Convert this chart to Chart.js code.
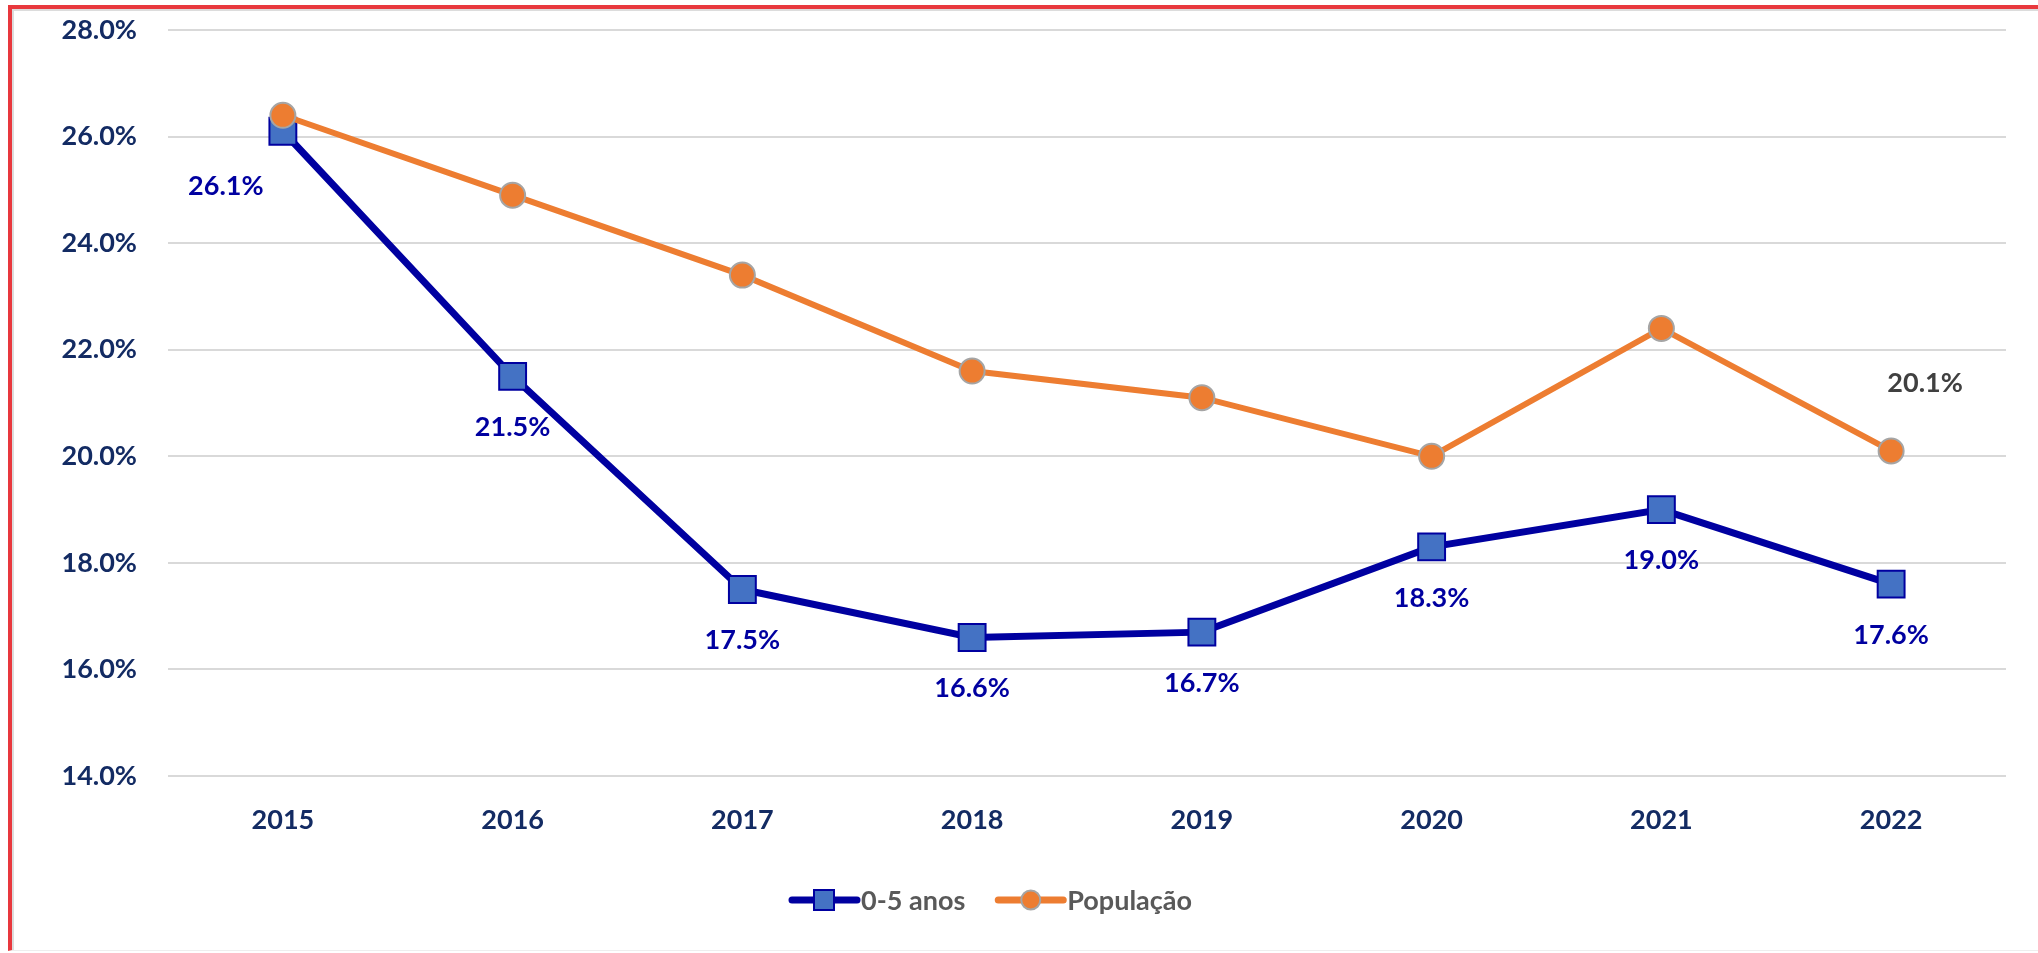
<!DOCTYPE html>
<html>
<head>
<meta charset="utf-8">
<script src="https://cdn.jsdelivr.net/npm/chart.js@4"></script>
<style>
  html, body { margin: 0; padding: 0; background: #fff; }
  #wrap { position: relative; width: 2038px; height: 953px; overflow: hidden; }
  #frame {
    position: absolute; left: 8px; top: 5px; right: -10px; bottom: 2px;
    border-left: 4px solid #E8383D; border-top: 4px solid #E8383D;
    border-bottom: 1px solid #eeeeee;
  }
  #frame::after {
    content: ""; position: absolute; left: 0; top: 0; right: 0; bottom: 0;
    border-left: 2px solid #dcdcdc; border-top: 2px solid #dcdcdc;
  }
  canvas { position: absolute; left: 0; top: 0; }
</style>
</head>
<body>
<div id="wrap">
  <div id="frame"></div>
  <canvas id="lineChart" width="2038" height="953"></canvas>
</div>
<script>
// data
var years = ["2015", "2016", "2017", "2018", "2019", "2020", "2021", "2022"];
var kids = [26.1, 21.5, 17.5, 16.6, 16.7, 18.3, 19.0, 17.6];      // 0-5 anos
var population = [26.4, 24.9, 23.4, 21.6, 21.1, 20.0, 22.4, 20.1];  // População
var seriesNames = ["0-5 anos", "População"];

var FONT = "Lato, 'Open Sans', sans-serif";

// value labels next to the points
var valueLabels = {
  id: 'valueLabels',
  afterDatasetsDraw: function(chart) {
    var ctx = chart.ctx;
    ctx.save();
    ctx.font = 'bold 27px ' + FONT;
    ctx.textAlign = 'center';
    ctx.textBaseline = 'middle';
    var m0 = chart.getDatasetMeta(0);
    ctx.fillStyle = '#0000A0';
    m0.data.forEach(function(pt, i) {
      var dx = i === 0 ? -57 : 0;
      var dy = i === 0 ? 55 : 51;
      ctx.fillText(kids[i].toFixed(1) + '%', pt.x + dx, pt.y + dy);
    });
    // only the last point of the population series is labelled
    var m1 = chart.getDatasetMeta(1);
    var n = m1.data.length - 1;
    var last = m1.data[n];
    ctx.fillStyle = '#404040';
    ctx.fillText(population[n].toFixed(1) + '%', last.x + 34, last.y - 68);
    ctx.restore();
  }
};

// legend drawn as line + marker, like the office chart
var lineLegend = {
  id: 'lineLegend',
  afterDraw: function(chart) {
    var ctx = chart.ctx;
    var y = 900;
    var x = 792;
    ctx.save();
    ctx.font = 'bold 27px ' + FONT;
    ctx.textBaseline = 'middle';
    ctx.textAlign = 'left';
    chart.data.datasets.forEach(function(ds, i) {
      ctx.strokeStyle = ds.borderColor;
      ctx.lineWidth = 7;
      ctx.lineCap = 'round';
      ctx.beginPath();
      ctx.moveTo(x, y);
      ctx.lineTo(x + 65, y);
      ctx.stroke();
      ctx.fillStyle = ds.pointBackgroundColor;
      ctx.strokeStyle = ds.pointBorderColor;
      ctx.lineWidth = 2;
      if (ds.pointStyle === 'rect') {
        ctx.fillRect(x + 22, y - 10, 20, 20);
        ctx.strokeRect(x + 22, y - 10, 20, 20);
      } else {
        ctx.beginPath();
        ctx.arc(x + 32.5, y, 9.5, 0, Math.PI * 2);
        ctx.fill();
        ctx.stroke();
      }
      ctx.fillStyle = '#595959';
      ctx.fillText(ds.label, x + 69, y + 1);
      x += 69 + ctx.measureText(ds.label).width + 33;
    });
    ctx.restore();
  }
};

var ctxL = document.getElementById("lineChart").getContext('2d');
var myLineChart = new Chart(ctxL, {
  type: 'line',
  data: {
    labels: years,
    datasets: [{
      label: seriesNames[0],
      data: kids,
      borderColor: '#0000A0',
      borderWidth: 7,
      pointStyle: 'rect',
      pointRadius: 19,
      pointHoverRadius: 19,
      pointBackgroundColor: '#4472C4',
      pointBorderColor: '#0000A0',
      pointBorderWidth: 2,
      tension: 0,
      order: 1
    }, {
      label: seriesNames[1],
      data: population,
      borderColor: '#ED7D31',
      borderWidth: 6,
      pointStyle: 'circle',
      pointRadius: 12.5,
      pointHoverRadius: 12.5,
      pointBackgroundColor: '#ED7D31',
      pointBorderColor: '#A5A5A5',
      pointBorderWidth: 2,
      tension: 0,
      order: 0
    }]
  },
  options: {
    responsive: false,
    animation: false,
    layout: { padding: { left: 0, right: 32, top: 30, bottom: 0 } },
    plugins: {
      legend: { display: false },
      tooltip: { enabled: false }
    },
    scales: {
      x: {
        offset: true,
        grid: { display: false, drawTicks: false },
        border: { display: false },
        ticks: {
          padding: 28,
          color: '#132B63',
          font: { family: FONT, size: 27, weight: 'bold' }
        },
        afterFit: function(scale) { scale.height = 177; }
      },
      y: {
        min: 14,
        max: 28,
        grid: { color: '#D9D9D9', lineWidth: 2, drawTicks: false },
        border: { display: false },
        ticks: {
          stepSize: 2,
          padding: 31,
          color: '#132B63',
          font: { family: FONT, size: 27, weight: 'bold' },
          callback: function(v) { return v.toFixed(1) + '%'; }
        },
        afterFit: function(scale) {
          scale.width = 168;
          // tick padding would otherwise push the plot area down
          scale.paddingTop = 0;
          scale.paddingBottom = 0;
        }
      }
    }
  },
  plugins: [valueLabels, lineLegend]
});
</script>
</body>
</html>
